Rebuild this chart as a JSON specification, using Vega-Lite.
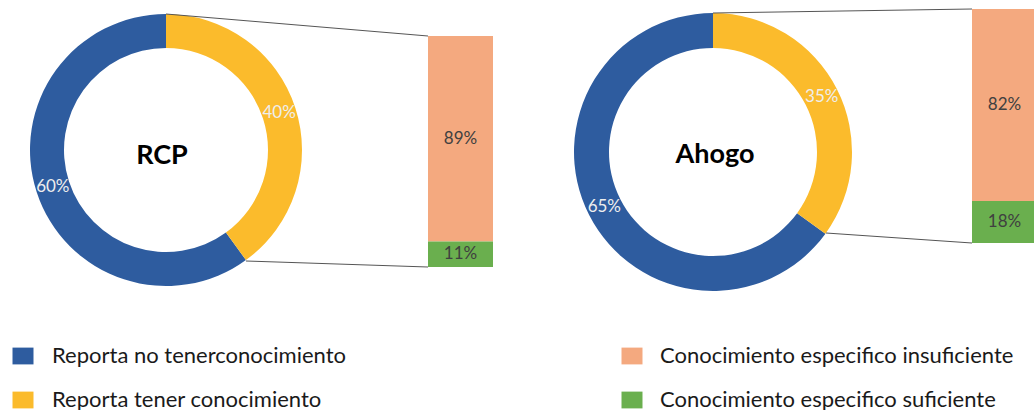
{
  "$schema": "https://vega.github.io/schema/vega-lite/v6.json",
  "width": 1034,
  "height": 410,
  "autosize": {"type": "none"},
  "padding": 0,
  "background": "white",
  "config": {"view": {"stroke": null}, "font": "Lato"},
  "datasets": {
    "donut": [
      {"chart": "RCP", "category": "Reporta no tenerconocimiento", "value": 0.60},
      {"chart": "RCP", "category": "Reporta tener conocimiento", "value": 0.40},
      {"chart": "Ahogo", "category": "Reporta no tenerconocimiento", "value": 0.65},
      {"chart": "Ahogo", "category": "Reporta tener conocimiento", "value": 0.35}
    ],
    "bars": [
      {"chart": "RCP", "category": "Conocimiento especifico insuficiente", "value": 0.89},
      {"chart": "RCP", "category": "Conocimiento especifico suficiente", "value": 0.11},
      {"chart": "Ahogo", "category": "Conocimiento especifico insuficiente", "value": 0.82},
      {"chart": "Ahogo", "category": "Conocimiento especifico suficiente", "value": 0.18}
    ]
  },
  "layer": [
    {
      "data": {"name": "donut"},
      "layer": [
        {
          "transform": [{"filter": "datum.chart === 'RCP'"}],
          "mark": {"type": "arc", "outerRadius": 136, "innerRadius": 102},
          "encoding": {
            "x": {"datum": 166, "type": "quantitative", "scale": {"domain": [0, 1034], "nice": false, "zero": false}, "axis": null},
            "y": {"datum": 150, "type": "quantitative", "scale": {"domain": [0, 410], "reverse": true, "nice": false, "zero": false}, "axis": null},
            "theta": {"field": "value", "type": "quantitative", "stack": true, "scale": {"domain": [0, 1]}},
            "color": {
              "field": "category", "type": "nominal",
              "scale": {"domain": ["Reporta no tenerconocimiento", "Reporta tener conocimiento"], "range": ["#2e5c9f", "#fbbb2c"]},
              "legend": {
                "orient": "none", "legendX": 12, "legendY": 345, "title": null, "padding": 0,
                "symbolType": "M-1,-0.8H1V0.8H-1Z", "symbolSize": 441, "symbolStrokeWidth": 0, "symbolOpacity": 1,
                "labelFont": "Lato", "labelFontSize": 22, "labelOffset": 18, "labelColor": "#1a1a1a", "rowPadding": 22, "labelLimit": 400
              }
            },
            "order": {"field": "category", "sort": "descending"}
          }
        },
        {
          "transform": [{"filter": "datum.chart === 'RCP'"}],
          "mark": {"type": "text", "radius": 119, "fontSize": 17, "color": "#eeeeee"},
          "encoding": {
            "x": {"datum": 166, "type": "quantitative"},
            "y": {"datum": 150, "type": "quantitative"},
            "theta": {"field": "value", "type": "quantitative", "stack": true},
            "detail": {"field": "category"},
            "order": {"field": "category", "sort": "descending"},
            "text": {"field": "value", "type": "quantitative", "format": ".0%"}
          }
        },
        {
          "transform": [{"filter": "datum.chart === 'Ahogo'"}],
          "mark": {"type": "arc", "outerRadius": 139, "innerRadius": 104},
          "encoding": {
            "x": {"datum": 713, "type": "quantitative"},
            "y": {"datum": 152, "type": "quantitative"},
            "theta": {"field": "value", "type": "quantitative", "stack": true},
            "color": {"field": "category", "type": "nominal"},
            "order": {"field": "category", "sort": "descending"}
          }
        },
        {
          "transform": [{"filter": "datum.chart === 'Ahogo'"}],
          "mark": {"type": "text", "radius": 122, "fontSize": 17, "color": "#eeeeee"},
          "encoding": {
            "x": {"datum": 713, "type": "quantitative"},
            "y": {"datum": 152, "type": "quantitative"},
            "theta": {"field": "value", "type": "quantitative", "stack": true},
            "detail": {"field": "category"},
            "order": {"field": "category", "sort": "descending"},
            "text": {"field": "value", "type": "quantitative", "format": ".0%"}
          }
        },
        {
          "transform": [{"filter": "datum.chart === 'RCP' && datum.category === 'Reporta tener conocimiento'"}],
          "mark": {"type": "text", "fontSize": 27, "fontWeight": "bold", "color": "#000000"},
          "encoding": {
            "x": {"datum": 162, "type": "quantitative"},
            "y": {"datum": 156, "type": "quantitative"},
            "text": {"field": "chart"}
          }
        },
        {
          "transform": [{"filter": "datum.chart === 'Ahogo' && datum.category === 'Reporta tener conocimiento'"}],
          "mark": {"type": "text", "fontSize": 27, "fontWeight": "bold", "color": "#000000"},
          "encoding": {
            "x": {"datum": 715, "type": "quantitative"},
            "y": {"datum": 155, "type": "quantitative"},
            "text": {"field": "chart"}
          }
        },
        {
          "data": {"values": [{}]},
          "mark": {"type": "rule", "color": "#555555", "strokeWidth": 1},
          "encoding": {"x": {"datum": 166, "type": "quantitative"}, "y": {"datum": 14, "type": "quantitative"}, "x2": {"datum": 428}, "y2": {"datum": 36}}
        },
        {
          "data": {"values": [{}]},
          "mark": {"type": "rule", "color": "#555555", "strokeWidth": 1},
          "encoding": {"x": {"datum": 246, "type": "quantitative"}, "y": {"datum": 261, "type": "quantitative"}, "x2": {"datum": 428}, "y2": {"datum": 267}}
        },
        {
          "data": {"values": [{}]},
          "mark": {"type": "rule", "color": "#555555", "strokeWidth": 1},
          "encoding": {"x": {"datum": 713, "type": "quantitative"}, "y": {"datum": 13, "type": "quantitative"}, "x2": {"datum": 972}, "y2": {"datum": 9}}
        },
        {
          "data": {"values": [{}]},
          "mark": {"type": "rule", "color": "#555555", "strokeWidth": 1},
          "encoding": {"x": {"datum": 826, "type": "quantitative"}, "y": {"datum": 233, "type": "quantitative"}, "x2": {"datum": 972}, "y2": {"datum": 243}}
        }
      ]
    },
    {
      "data": {"name": "bars"},
      "transform": [
        {"filter": "datum.chart === 'RCP'"},
        {"stack": "value", "groupby": ["chart"], "sort": [{"field": "category", "order": "descending"}], "as": ["v0", "v1"]}
      ],
      "layer": [
        {
          "mark": {"type": "rect"},
          "encoding": {
            "x": {"datum": 428, "type": "quantitative", "scale": {"domain": [0, 1034], "nice": false, "zero": false}, "axis": null},
            "x2": {"datum": 493},
            "y": {"field": "v0", "type": "quantitative", "scale": {"domain": [0, 1], "range": [267, 36], "nice": false}, "axis": null},
            "y2": {"field": "v1"},
            "color": {
              "field": "category", "type": "nominal",
              "scale": {"domain": ["Conocimiento especifico insuficiente", "Conocimiento especifico suficiente"], "range": ["#f4a97f", "#6aaf4e"]},
              "legend": {
                "orient": "none", "legendX": 621, "legendY": 345, "title": null, "padding": 0,
                "symbolType": "M-1,-0.8H1V0.8H-1Z", "symbolSize": 441, "symbolStrokeWidth": 0, "symbolOpacity": 1,
                "labelFont": "Lato", "labelFontSize": 22, "labelOffset": 17, "labelColor": "#1a1a1a", "rowPadding": 22, "labelLimit": 420
              }
            }
          }
        },
        {
          "mark": {"type": "text", "fontSize": 17, "color": "#404040"},
          "encoding": {
            "x": {"datum": 460.5, "type": "quantitative"},
            "y": {"field": "value", "type": "quantitative", "stack": "zero", "bandPosition": 0.5},
            "detail": {"field": "category"},
            "order": {"field": "category", "sort": "descending"},
            "text": {"field": "value", "type": "quantitative", "format": ".0%"}
          }
        }
      ]
    },
    {
      "data": {"name": "bars"},
      "transform": [
        {"filter": "datum.chart === 'Ahogo'"},
        {"stack": "value", "groupby": ["chart"], "sort": [{"field": "category", "order": "descending"}], "as": ["v0", "v1"]}
      ],
      "layer": [
        {
          "mark": {"type": "rect"},
          "encoding": {
            "x": {"datum": 972, "type": "quantitative", "scale": {"domain": [0, 1034], "nice": false, "zero": false}, "axis": null},
            "x2": {"datum": 1037},
            "y": {"field": "v0", "type": "quantitative", "scale": {"domain": [0, 1], "range": [243, 9], "nice": false}, "axis": null},
            "y2": {"field": "v1"},
            "color": {
              "field": "category", "type": "nominal",
              "scale": {"domain": ["Conocimiento especifico insuficiente", "Conocimiento especifico suficiente"], "range": ["#f4a97f", "#6aaf4e"]},
              "legend": null
            }
          }
        },
        {
          "mark": {"type": "text", "fontSize": 17, "color": "#404040"},
          "encoding": {
            "x": {"datum": 1004.5, "type": "quantitative"},
            "y": {"field": "value", "type": "quantitative", "stack": "zero", "bandPosition": 0.5},
            "detail": {"field": "category"},
            "order": {"field": "category", "sort": "descending"},
            "text": {"field": "value", "type": "quantitative", "format": ".0%"}
          }
        }
      ]
    }
  ],
  "resolve": {"scale": {"y": "independent", "color": "independent"}}
}
